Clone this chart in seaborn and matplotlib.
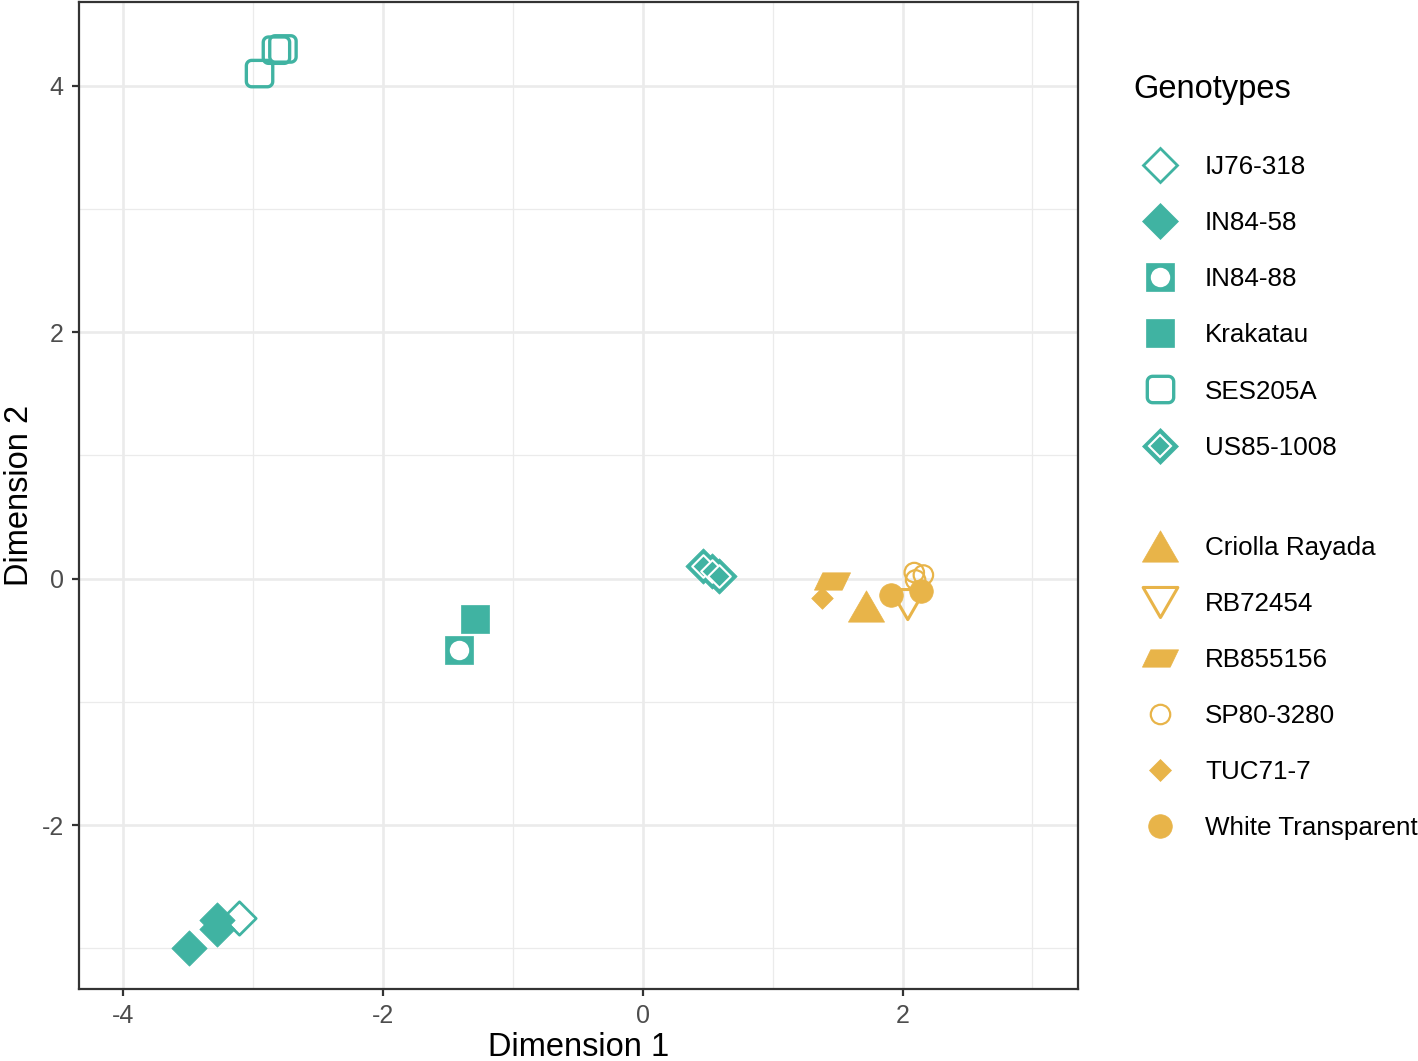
import numpy as np
import matplotlib
matplotlib.use("Agg")
import matplotlib.pyplot as plt
import seaborn as sns
from matplotlib.path import Path
from matplotlib.lines import Line2D

# --- data ---
ij76_x, ij76_y = [-3.11], [-2.75]
in8458_x, in8458_y = [-3.49, -3.28, -3.28], [-3.00, -2.77, -2.84]
in8488_x, in8488_y = [-1.415], [-0.58]
krakatau_x, krakatau_y = [-1.29], [-0.33]
ses205a_x, ses205a_y = [-2.95, -2.82, -2.77], [4.10, 4.29, 4.30]
us85_x, us85_y = [0.46, 0.53, 0.59], [0.10, 0.06, 0.02]

criolla_x, criolla_y = [1.72], [-0.22]
rb72454_x, rb72454_y = [2.04], [-0.21]
rb855156_x, rb855156_y = [1.46], [-0.02]
sp80_x, sp80_y = [2.09, 2.16, 2.10], [0.05, 0.03, -0.01]
tuc_x, tuc_y = [1.38], [-0.16]
white_x, white_y = [1.91, 2.14], [-0.13, -0.10]

teal_labels = ["IJ76-318", "IN84-58", "IN84-88", "Krakatau", "SES205A", "US85-1008"]
gold_labels = ["Criolla Rayada", "RB72454", "RB855156", "SP80-3280", "TUC71-7", "White Transparent"]

TEAL = "#40B3A2"
GOLD = "#E8B449"

# --- custom marker shapes ---
def rounded_square(r=0.2, n=8):
    pts = []
    corners = [(0.5 - r, 0.5 - r, 0), (-0.5 + r, 0.5 - r, 90),
               (-0.5 + r, -0.5 + r, 180), (0.5 - r, -0.5 + r, 270)]
    for cx, cy, a0 in corners:
        for a in np.linspace(a0, a0 + 90, n):
            pts.append((cx + r * np.cos(np.radians(a)), cy + r * np.sin(np.radians(a))))
    pts.append(pts[0])
    return Path(pts, closed=True)

tri_up = Path([(-0.5, -0.433), (0.5, -0.433), (0, 0.433), (-0.5, -0.433)], closed=True)
tri_down = Path([(-0.5, 0.433), (0.5, 0.433), (0, -0.433), (-0.5, 0.433)], closed=True)
para = Path([(-0.5, -0.24), (0.27, -0.24), (0.5, 0.24), (-0.27, 0.24), (-0.5, -0.24)], closed=True)
rsq = rounded_square()

# layers: (x, y, marker, markersize, face, edge, linewidth)
layers = {
    "IJ76-318": [(ij76_x, ij76_y, "D", 17, "white", TEAL, 2.0)],
    "IN84-58": [(in8458_x, in8458_y, "D", 18, TEAL, TEAL, 0.5)],
    "IN84-88": [(in8488_x, in8488_y, "s", 20, TEAL, TEAL, 0.5),
                (in8488_x, in8488_y, "o", 14, "white", "white", 0.0)],
    "Krakatau": [(krakatau_x, krakatau_y, "s", 20, TEAL, TEAL, 0.5)],
    "SES205A": [(ses205a_x, ses205a_y, rsq, 19, "none", TEAL, 2.4)],
    "US85-1008": [(us85_x, us85_y, "D", 18, TEAL, TEAL, 0.5),
                  (us85_x, us85_y, "D", 11.5, TEAL, "white", 1.5)],
    "Criolla Rayada": [(criolla_x, criolla_y, tri_up, 26, GOLD, GOLD, 0.5)],
    "RB72454": [(rb72454_x, rb72454_y, tri_down, 25, "none", GOLD, 2.2)],
    "RB855156": [(rb855156_x, rb855156_y, para, 26, GOLD, GOLD, 0.5)],
    "SP80-3280": [(sp80_x, sp80_y, "o", 14, "none", GOLD, 1.6)],
    "TUC71-7": [(tuc_x, tuc_y, "D", 11, GOLD, GOLD, 0.5)],
    "White Transparent": [(white_x, white_y, "o", 17, GOLD, GOLD, 0.5)],
}

sns.set_theme(style="whitegrid")
plt.rcParams["font.family"] = ["Liberation Sans", "DejaVu Sans"]
plt.rcParams["axes.unicode_minus"] = False

fig = plt.figure(figsize=(14.18, 10.61), dpi=100)
ax = fig.add_axes([0.0557, 0.0679, 0.7045, 0.9301])

for name in teal_labels + gold_labels:
    for x, y, m, ms, fc, ec, lw in layers[name]:
        sns.scatterplot(x=x, y=y, ax=ax, marker=m, s=ms ** 2, facecolor=fc,
                        edgecolor=ec, linewidth=lw, legend=False, zorder=3)

ax.set_xlim(-4.34, 3.35)
ax.set_ylim(-3.33, 4.68)
ax.set_xticks([-4, -2, 0, 2])
ax.set_yticks([-2, 0, 2, 4])
ax.set_xticks([-3, -1, 1, 3], minor=True)
ax.set_yticks([-3, -1, 1, 3], minor=True)
ax.grid(which="major", color="#EBEBEB", linewidth=1.9)
ax.grid(which="minor", color="#EBEBEB", linewidth=0.9)
ax.set_facecolor("white")
for sp in ax.spines.values():
    sp.set_color("#333333")
    sp.set_linewidth(1.6)
ax.tick_params(axis="both", which="major", length=5, width=1.6, color="#333333",
               labelcolor="#4D4D4D", labelsize=18, pad=6, bottom=True, left=True)
ax.tick_params(axis="both", which="minor", length=0)
ax.set_xlabel("Dimension 1", fontsize=23.5, color="black", labelpad=3)
ax.set_ylabel("Dimension 2", fontsize=23.5, color="black", labelpad=5)


def legend_handle(name):
    parts = []
    for _, _, m, ms, fc, ec, lw in layers[name]:
        parts.append(Line2D([], [], linestyle="none", marker=m, markersize=ms,
                            markerfacecolor=fc, markeredgecolor=ec, markeredgewidth=lw))
    return tuple(parts) if len(parts) > 1 else parts[0]


leg_kw = dict(loc="upper left", frameon=False, fontsize=18.7, handlelength=2.0,
              handletextpad=0.75, labelspacing=1.235, borderpad=0, borderaxespad=0,
              labelcolor="black")
leg1 = fig.legend([legend_handle(n) for n in teal_labels], teal_labels,
                  bbox_to_anchor=(0.7995, 0.930), title="Genotypes",
                  title_fontsize=23.5, alignment="left", **leg_kw)
leg1.get_title().set_color("black")
leg1._legend_box.sep = 36
fig.legend([legend_handle(n) for n in gold_labels], gold_labels,
           bbox_to_anchor=(0.7995, 0.4949), **leg_kw)

fig.savefig("out.png", dpi=100)
